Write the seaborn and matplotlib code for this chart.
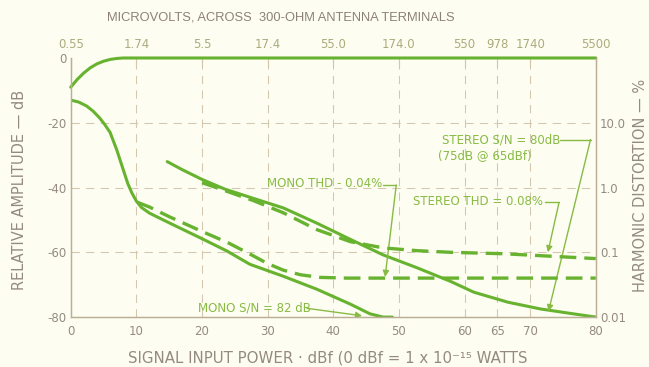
import matplotlib
matplotlib.use("Agg")
import matplotlib.pyplot as plt
import seaborn as sns
import pandas as pd

# ---- data -------------------------------------------------------------
# Signal input power in dBf
level_x = [0, 1, 2, 3, 4, 5, 6, 7, 8, 80]
level_db = [-9, -6.6, -4.6, -3.0, -1.8, -1.0, -0.45, -0.15, 0, 0]

mono_sn_x = [0, 1.2, 2.4, 3.4, 4.4, 5.2, 6, 7, 8, 8.7, 9.3, 10.0, 10.8, 12,
             15, 19.7, 23.8, 27.3, 32.4, 37.5, 42.6, 45.6, 47.6, 49]
mono_sn_db = [-13, -13.6, -14.8, -16.4, -18.5, -20.6, -23, -28.3, -34.5,
              -38.8, -41.6, -44.2, -46.2, -47.9, -50.9, -55.5, -59.6, -63.7,
              -67.4, -71.4, -76, -79, -80, -80]

stereo_sn_x = [14.7, 17, 20, 23.5, 27.3, 32.4, 37.5, 42.6, 47.6, 52.8, 57.9,
               61.4, 66.6, 71.6, 76.6, 80]
stereo_sn_db = [-32, -34.5, -37.5, -40.5, -43, -46.3, -51, -56, -60.8, -64.8,
                -69, -72.3, -75.4, -77.5, -79, -80]

# Harmonic distortion in percent
mono_thd_x = [10.2, 12, 15, 20, 24, 27.3, 30, 32.4, 35, 38, 42, 80]
mono_thd_pct = [0.59, 0.50, 0.355, 0.21, 0.14, 0.094, 0.067, 0.053, 0.045,
                0.041, 0.04, 0.04]

stereo_thd_x = [20, 24, 27.8, 32.4, 37.5, 42.6, 47.6, 52.8, 57.9, 66, 80]
stereo_thd_pct = [1.19, 0.86, 0.63, 0.407, 0.224, 0.146, 0.117, 0.106, 0.1,
                  0.095, 0.08]

# Axis labelling
x_ticks = [0, 10, 20, 30, 40, 50, 60, 65, 70, 80]
x_ticklabels = ["0", "10", "20", "30", "40", "50", "60", "65", "70", "80"]
uv_ticklabels = ["0.55", "1.74", "5.5", "17.4", "55.0", "174.0", "550",
                 "978", "1740", "5500"]
db_ticks = [0, -20, -40, -60, -80]
db_ticklabels = ["0", "-20", "-40", "-60", "-80"]
thd_ticks = [0.01, 0.1, 1, 10]
thd_ticklabels = ["0.01", "0.1", "1.0", "10.0"]

# ---- style ------------------------------------------------------------
sns.set_theme(style="white")
plt.rcParams["font.family"] = ["DejaVu Sans"]
plt.rcParams["axes.unicode_minus"] = False

BG = "#fdfdf1"
GREEN = "#67b330"
LABEL_GREEN = "#88bb44"
FRAME = "#bcae97"
GRID = "#d4c7b0"
TXT = "#958a80"
TOP_TXT = "#a9ad7c"

fig = plt.figure(figsize=(6.49, 3.67), dpi=100, facecolor=BG)
ax = fig.add_axes([0.109, 0.136, 0.809, 0.706], facecolor=BG)
ax2 = ax.twinx()

ax.set_xlim(0, 80)
ax.set_ylim(-80, 0)
ax2.set_yscale("log")
ax2.set_ylim(0.01, 100)

# dashed grid
for gx in x_ticks[1:-1]:
    ax.axvline(gx, color=GRID, lw=0.75, ls=(0, (8, 6)), zorder=0)
for gy in db_ticks[1:-1]:
    ax.axhline(gy, color=GRID, lw=0.75, ls=(0, (8, 6)), zorder=0)

# ---- curves -----------------------------------------------------------
sns.lineplot(data=pd.DataFrame({"x": level_x, "y": level_db}), x="x", y="y",
             ax=ax, color=GREEN, lw=2.2, clip_on=False)
sns.lineplot(data=pd.DataFrame({"x": mono_sn_x, "y": mono_sn_db}), x="x",
             y="y", ax=ax, color=GREEN, lw=2.2)
sns.lineplot(data=pd.DataFrame({"x": stereo_sn_x, "y": stereo_sn_db}), x="x",
             y="y", ax=ax, color=GREEN, lw=2.2)
sns.lineplot(data=pd.DataFrame({"x": mono_thd_x, "y": mono_thd_pct}), x="x",
             y="y", ax=ax2, color=GREEN, lw=2.4, linestyle=(0, (5, 2.4)))
sns.lineplot(data=pd.DataFrame({"x": stereo_thd_x, "y": stereo_thd_pct}),
             x="x", y="y", ax=ax2, color=GREEN, lw=2.4,
             linestyle=(0, (5, 2.4)))

# ---- axes, ticks, labels ----------------------------------------------
for a in (ax, ax2):
    a.spines["top"].set_visible(False)
    for side in ("left", "bottom", "right"):
        a.spines[side].set_color(FRAME)
        a.spines[side].set_linewidth(0.9)

ax.set_xticks(x_ticks, x_ticklabels)
ax.set_yticks(db_ticks, db_ticklabels)
ax.tick_params(axis="x", length=0, pad=6, labelsize=8.5, labelcolor=TXT)
ax.tick_params(axis="y", length=0, pad=3, labelsize=8.5, labelcolor=TXT)
ax2.set_yticks(thd_ticks, thd_ticklabels)
ax2.minorticks_off()
ax2.tick_params(axis="y", length=0, pad=3, labelsize=8.5, labelcolor=TXT)

top = ax.secondary_xaxis("top")
top.set_xticks(x_ticks, uv_ticklabels)
top.tick_params(axis="x", direction="in", length=6, width=0.8, color=GRID,
                pad=5, labelsize=8.5, labelcolor=TOP_TXT)
top.spines["top"].set_visible(False)

ax.set_xlabel("SIGNAL INPUT POWER · dBf (0 dBf = 1 x 10⁻¹⁵ WATTS",
              fontsize=10.8, color=TXT, va="center")
ax.xaxis.set_label_coords(0.49, -0.158)
ax.set_ylabel("RELATIVE AMPLITUDE — dB", fontsize=10.5, color=TXT,
              va="center", ha="center")
ax.yaxis.set_label_coords(-0.097, 0.49)
ax2.set_ylabel("HARMONIC DISTORTION — %", fontsize=10.5, color=TXT,
               va="center", ha="center")
ax2.yaxis.set_label_coords(1.085, 0.51)

fig.text(0.433, 0.951, "MICROVOLTS, ACROSS  300-OHM ANTENNA TERMINALS",
         ha="center", va="center", fontsize=9.3, color="#8c8079",
         family=["Liberation Sans", "DejaVu Sans"])

# ---- call-outs ----------------------------------------------------------
def callout(text_xy, text, path, tip):
    ax.text(*text_xy, text, color=LABEL_GREEN, fontsize=8.5, va="center",
            ha="left")
    xs, ys = zip(*path)
    ax.plot(xs, ys, color=LABEL_GREEN, lw=1.0)
    ax.annotate("", xy=tip, xytext=path[-1],
                arrowprops=dict(arrowstyle="-|>", color=LABEL_GREEN, lw=1.0,
                                mutation_scale=9, shrinkA=0, shrinkB=0))

callout((29.9, -38.9), "MONO THD - 0.04%",
        [(47.6, -39.2), (49.6, -39.2)], (47.9, -67.6))
callout((56.6, -25.3), "STEREO S/N = 80dB",
        [(74.6, -25.2), (79.2, -25.2)], (72.8, -78.2))
ax.text(56.0, -30.0, "(75dB @ 65dBf)", color=LABEL_GREEN, fontsize=8.5,
        va="center", ha="left")
callout((52.2, -44.4), "STEREO THD = 0.08%",
        [(72.3, -44.6), (74.4, -44.6)], (72.7, -60.0))
callout((19.4, -77.2), "MONO S/N = 82 dB",
        [(36.0, -77.3)], (44.4, -79.6))

fig.savefig("out.png", dpi=100, facecolor=BG)
